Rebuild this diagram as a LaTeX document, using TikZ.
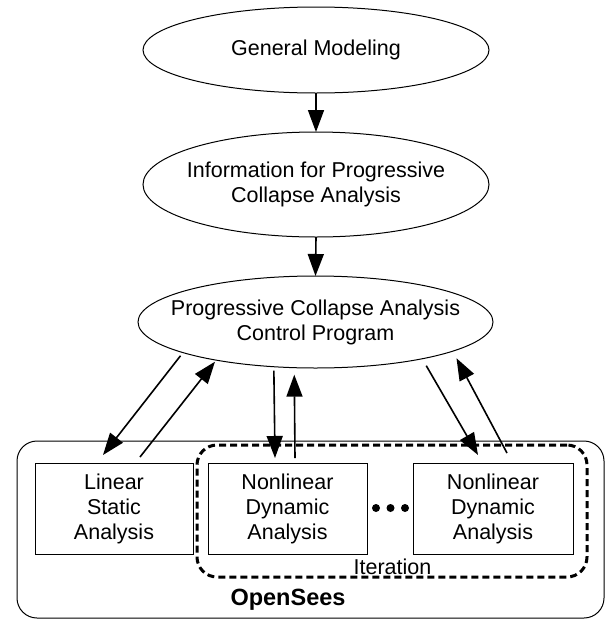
\documentclass[tikz,border=0pt]{standalone}
\usepackage{fontspec}
\setmainfont{Liberation Sans}
\usetikzlibrary{shapes.geometric,arrows.meta}
\begin{document}
\begin{tikzpicture}[x=1pt,y=-1pt,
  ell/.style={ellipse,draw,line width=1pt,outer sep=0pt,inner sep=0pt},
  txt/.style={font=\fontsize{21.5}{25}\selectfont,align=center,inner sep=0pt},
  box/.style={draw,line width=1pt,minimum width=158pt,minimum height=91pt,inner sep=0pt,outer sep=0pt,font=\fontsize{21.5}{25}\selectfont,align=center},
  arr/.style={line width=1.6pt,-{Triangle[length=22pt,width=16pt]}},
  dot/.style={circle,fill,minimum size=8pt,inner sep=0pt}
]
\useasboundingbox (0,0) rectangle (606,619);
% ellipses
\node[ell,minimum width=346pt,minimum height=86pt] (gm) at (316,50) {};
\node[txt] (gmt) at (gm.center) {General Modeling};
\node[ell,minimum width=346pt,minimum height=105pt] (info) at (316,184.5) {};
\node[txt] (infot) at (info.center) {Information for Progressive\\Collapse Analysis};
\node[ell,minimum width=355pt,minimum height=92pt] (pc) at (315.5,322) {};
\node[txt] (pct) at (pc.center) {Progressive Collapse Analysis\\Control Program};
% outer container
\node[draw,line width=1pt,rounded corners=20pt,minimum width=587pt,minimum height=177pt,inner sep=0pt] (os) at (310.5,529.5) {};
\node[font=\fontsize{23.5}{26}\selectfont\bfseries,inner sep=0pt] (ost) at (288,600) {OpenSees};
% iteration group
\node[draw,line width=3pt,dash pattern=on 7pt off 4pt,rounded corners=20pt,minimum width=390pt,minimum height=132pt,inner sep=0pt] (it) at (392,511) {};
\node[txt] (itt) at (392.5,567) {Iteration};
% boxes
\node[box] (lin) at (114,508.5) {Linear\\Static\\Analysis};
\node[box,minimum width=159pt] (nl1) at (287.5,508.5) {Nonlinear\\Dynamic\\Analysis};
\node[box,minimum width=160pt] (nl2) at (493,508.5) {Nonlinear\\Dynamic\\Analysis};
% dots
\node[dot] (d1) at (376,508) {};
\node[dot] (d2) at (390.5,508) {};
\node[dot] (d3) at (405,508) {};
% arrows
\draw[arr] (gm.south) -- (info.north);
\draw[arr] (info.south) -- (pc.north);
\draw[arr,shorten <=4pt] (pc.193) -- ([xshift=-11pt,yshift=8pt]lin.north);
\draw[arr,shorten >=2pt] ([xshift=26pt,yshift=6pt]lin.north) -- (pc.201.25);
\draw[arr,shorten <=4pt] (pc.227.9) -- ([xshift=-12.5pt,yshift=5pt]nl1.north);
\draw[arr,shorten >=7pt] ([xshift=7.5pt,yshift=5pt]nl1.north) -- (pc.245.8);
\draw[arr,shorten <=8pt] (pc.341.7) -- ([xshift=-15pt,yshift=8pt]nl2.north);
\draw[arr,shorten >=8pt] ([xshift=14pt,yshift=10pt]nl2.north) -- (pc.348.1);
\end{tikzpicture}
\end{document}
